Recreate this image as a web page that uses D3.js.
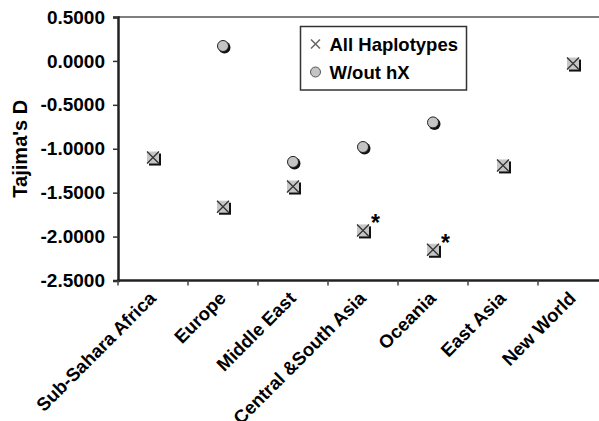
<!DOCTYPE html>
<html>
<head>
<meta charset="utf-8">
<script src="https://cdn.jsdelivr.net/npm/d3@7"></script>
<style>
  body { margin: 0; background: #fff; }
  svg { display: block; font-family: "Liberation Sans", Arial, sans-serif; font-weight: bold; }
</style>
</head>
<body>
<script>
// chart data
const regions = ["Sub-Sahara Africa", "Europe", "Middle East", "Central &South Asia",
  "Oceania", "East Asia", "New World"];
const allHaplotypes = [-1.10, -1.66, -1.43, -1.93, -2.15, -1.19, -0.03];
const withoutHX = [null, 0.17, -1.15, -0.98, -0.70, null, null];
const significant = ["Central &South Asia", "Oceania"];
const yTicks = [0.5, 0, -0.5, -1, -1.5, -2, -2.5];
const seriesNames = ["All Haplotypes", "W/out hX"];

const WIDTH = 599;
const HEIGHT = 421;
const MARGIN = { top: 17, left: 118, bottom: 280.5 };
const PLOT_RIGHT = 608; // last band runs past the window edge

const svg = d3.select("body").append("svg")
  .attr("width", WIDTH)
  .attr("height", HEIGHT);

const x = d3.scaleBand()
  .domain(regions)
  .range([MARGIN.left, PLOT_RIGHT])
  .padding(0);

const y = d3.scaleLinear()
  .domain([-2.5, 0.5])
  .range([MARGIN.bottom, MARGIN.top]);

// top border of the plot area
svg.append("line")
  .attr("x1", MARGIN.left).attr("x2", PLOT_RIGHT)
  .attr("y1", MARGIN.top).attr("y2", MARGIN.top)
  .attr("stroke", "#555").attr("stroke-width", 1.5);

// y axis
const yAxis = svg.append("g")
  .attr("transform", `translate(${MARGIN.left},0)`)
  .call(d3.axisLeft(y).tickValues(yTicks).tickSize(5).tickPadding(8)
    .tickFormat((d) => d.toFixed(4)));
yAxis.select(".domain").attr("stroke", "#222").attr("stroke-width", 2.5);
yAxis.selectAll(".tick line").attr("stroke", "#333").attr("stroke-width", 1.5);
yAxis.selectAll(".tick text")
  .attr("fill", "#000")
  .attr("font-size", "19px")
  .attr("font-family", "Liberation Sans, Arial, sans-serif")
  .attr("font-weight", "bold");

// x axis: ticks sit on the band boundaries
const xAxis = svg.append("g");
xAxis.append("line")
  .attr("x1", MARGIN.left - 1).attr("x2", PLOT_RIGHT)
  .attr("y1", MARGIN.bottom).attr("y2", MARGIN.bottom)
  .attr("stroke", "#222").attr("stroke-width", 2.5);
xAxis.selectAll("line.tick")
  .data(regions)
  .enter()
  .append("line")
  .attr("class", "tick")
  .attr("x1", (d) => x(d)).attr("x2", (d) => x(d))
  .attr("y1", MARGIN.bottom).attr("y2", MARGIN.bottom + 5)
  .attr("stroke", "#444").attr("stroke-width", 1.5);
xAxis.selectAll("text")
  .data(regions)
  .enter()
  .append("text")
  .attr("transform", (d) =>
    `translate(${x(d) + x.bandwidth() / 2 + 4}, ${MARGIN.bottom + 19}) rotate(-45)`)
  .attr("text-anchor", "end")
  .attr("font-size", "18.5px")
  .attr("fill", "#000")
  .text((d) => d);

// y axis title
svg.append("text")
  .attr("transform", `translate(27, ${(MARGIN.top + MARGIN.bottom) / 2}) rotate(-90)`)
  .attr("text-anchor", "middle")
  .attr("font-size", "20px")
  .attr("fill", "#000")
  .text("Tajima's D");

// series 1: square with a cross and a drop shadow
const S = 12;
const crossPts = regions.map((r, i) => ({ region: r, value: allHaplotypes[i] }))
  .filter((d) => d.value !== null);
const crosses = svg.append("g").selectAll("g")
  .data(crossPts)
  .enter()
  .append("g")
  .attr("transform", (d) =>
    `translate(${x(d.region) + x.bandwidth() / 2}, ${y(d.value)})`);
crosses.append("rect")
  .attr("x", -S / 2 + 2).attr("y", -S / 2 + 2)
  .attr("width", S).attr("height", S)
  .attr("fill", "#111");
crosses.append("rect")
  .attr("x", -S / 2).attr("y", -S / 2)
  .attr("width", S).attr("height", S)
  .attr("fill", "#c6c6c6");
crosses.append("path")
  .attr("d", `M${-S / 2},${-S / 2}L${S / 2},${S / 2}M${S / 2},${-S / 2}L${-S / 2},${S / 2}`)
  .attr("stroke", "#333").attr("stroke-width", 1.3);

// series 2: grey circle with a drop shadow
const circPts = regions.map((r, i) => ({ region: r, value: withoutHX[i] }))
  .filter((d) => d.value !== null);
const circles = svg.append("g").selectAll("g")
  .data(circPts)
  .enter()
  .append("g")
  .attr("transform", (d) =>
    `translate(${x(d.region) + x.bandwidth() / 2}, ${y(d.value)})`);
circles.append("circle")
  .attr("cx", 1.5).attr("cy", 1.5).attr("r", 6)
  .attr("fill", "#111");
circles.append("circle")
  .attr("r", 5.5)
  .attr("fill", "#c4c4c4")
  .attr("stroke", "#222").attr("stroke-width", 1);

// asterisks next to significant values
svg.append("g").selectAll("text")
  .data(crossPts.filter((d) => significant.includes(d.region)))
  .enter()
  .append("text")
  .attr("x", (d) => x(d.region) + x.bandwidth() / 2 + 8)
  .attr("y", (d) => y(d.value) + 1)
  .attr("font-size", "23px")
  .attr("fill", "#000")
  .text("*");

// legend
const legend = svg.append("g").attr("transform", "translate(300.5, 26.5)");
legend.append("rect")
  .attr("width", 166).attr("height", 63.5)
  .attr("fill", "#fff")
  .attr("stroke", "#333").attr("stroke-width", 1.5);
const lg = legend.selectAll("g")
  .data(seriesNames)
  .enter()
  .append("g")
  .attr("transform", (d, i) => `translate(15, ${17.5 + i * 28})`);
lg.filter((d, i) => i === 0).append("path")
  .attr("d", "M-4.5,-4.5L4.5,4.5M4.5,-4.5L-4.5,4.5")
  .attr("stroke", "#666").attr("stroke-width", 1.5);
lg.filter((d, i) => i === 1).append("circle")
  .attr("r", 5)
  .attr("fill", "#c4c4c4")
  .attr("stroke", "#555").attr("stroke-width", 1);
lg.append("text")
  .attr("x", 14)
  .attr("y", 7)
  .attr("font-size", "18.5px")
  .attr("fill", "#000")
  .text((d) => d);
</script>
</body>
</html>
